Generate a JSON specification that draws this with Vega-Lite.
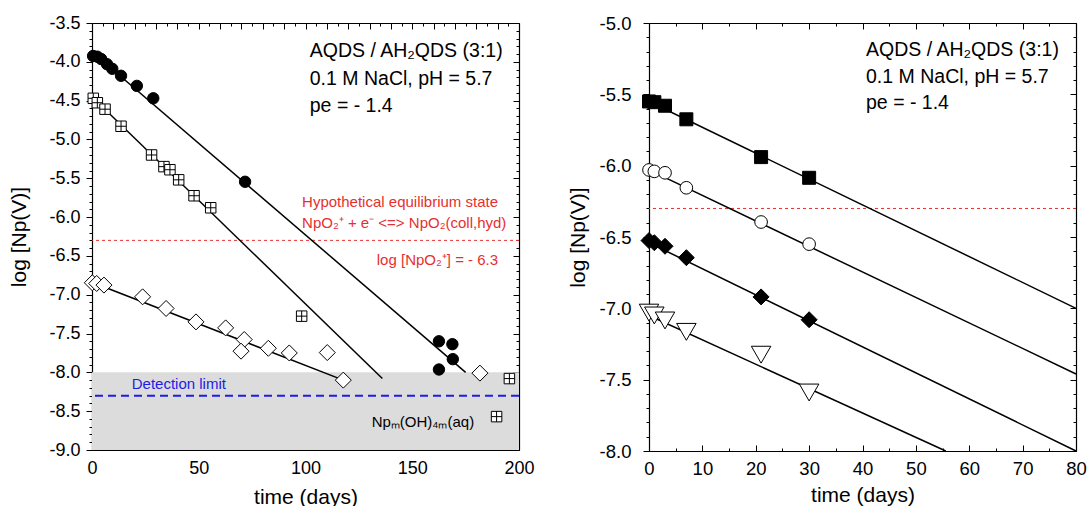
{
  "$schema": "https://vega.github.io/schema/vega-lite/v6.json",
  "padding": {"left": 8, "top": 14, "right": 12, "bottom": 0},
  "background": "white",
  "config": {
    "font": "Liberation Sans",
    "view": {"stroke": null},
    "axis": {"grid": false, "domainColor": "#000", "tickColor": "#000", "labelColor": "#000", "titleColor": "#000", "titleFontWeight": "normal", "labelFont": "Liberation Sans", "titleFont": "Liberation Sans", "domainWidth": 1.2, "tickWidth": 1, "zindex": 1, "labelFlush": false, "labelOverlap": false, "labelBound": false}
  },
  "datasets": {
    "ptsL": [
      {"s": "c", "t": 0.5, "v": -3.925}, {"s": "c", "t": 2.5, "v": -3.934}, {"s": "c", "t": 4.3, "v": -3.964}, {"s": "c", "t": 7, "v": -4.03}, {"s": "c", "t": 9.5, "v": -4.09}, {"s": "c", "t": 13.6, "v": -4.18}, {"s": "c", "t": 21, "v": -4.31}, {"s": "c", "t": 28.7, "v": -4.47}, {"s": "c", "t": 71.7, "v": -5.545}, {"s": "c", "t": 162.5, "v": -7.6}, {"s": "c", "t": 168.8, "v": -7.637}, {"s": "c", "t": 162.5, "v": -7.963}, {"s": "c", "t": 169, "v": -7.83},
      {"s": "q", "t": 0.6, "v": -4.47}, {"s": "q", "t": 2.5, "v": -4.527}, {"s": "q", "t": 6.1, "v": -4.61}, {"s": "q", "t": 13.6, "v": -4.83}, {"s": "q", "t": 27.9, "v": -5.2}, {"s": "q", "t": 33.7, "v": -5.35}, {"s": "q", "t": 36.5, "v": -5.39}, {"s": "q", "t": 40.6, "v": -5.52}, {"s": "q", "t": 47.8, "v": -5.725}, {"s": "q", "t": 55.6, "v": -5.88}, {"s": "q", "t": 98.2, "v": -7.276}, {"s": "q", "t": 195.5, "v": -8.08}, {"s": "q", "t": 189.5, "v": -8.57},
      {"s": "d", "t": 0.15, "v": -6.846}, {"s": "d", "t": 2.2, "v": -6.855}, {"s": "d", "t": 5.6, "v": -6.876}, {"s": "d", "t": 23.7, "v": -7.027}, {"s": "d", "t": 34.7, "v": -7.177}, {"s": "d", "t": 48.7, "v": -7.35}, {"s": "d", "t": 62.6, "v": -7.427}, {"s": "d", "t": 71.3, "v": -7.577}, {"s": "d", "t": 69.8, "v": -7.727}, {"s": "d", "t": 82.6, "v": -7.69}, {"s": "d", "t": 92.4, "v": -7.75}, {"s": "d", "t": 110.2, "v": -7.745}, {"s": "d", "t": 117.7, "v": -8.1}, {"s": "d", "t": 181.7, "v": -8.01}
    ],
    "linesL": [
      {"s": "c", "t": 0, "v": -3.87}, {"s": "c", "t": 175, "v": -8.0},
      {"s": "q", "t": 0, "v": -4.45}, {"s": "q", "t": 136, "v": -8.08},
      {"s": "d", "t": 0, "v": -6.84}, {"s": "d", "t": 117.7, "v": -8.1}
    ],
    "ptsR": [
      {"s": "S", "t": 0, "v": -5.55}, {"s": "S", "t": 1, "v": -5.555}, {"s": "S", "t": 3, "v": -5.58}, {"s": "S", "t": 7, "v": -5.675}, {"s": "S", "t": 21, "v": -5.94}, {"s": "S", "t": 30, "v": -6.085},
      {"s": "C", "t": 0, "v": -6.03}, {"s": "C", "t": 1, "v": -6.04}, {"s": "C", "t": 3, "v": -6.05}, {"s": "C", "t": 7, "v": -6.155}, {"s": "C", "t": 21, "v": -6.395}, {"s": "C", "t": 30, "v": -6.55},
      {"s": "D", "t": 0, "v": -6.525}, {"s": "D", "t": 1, "v": -6.54}, {"s": "D", "t": 3, "v": -6.565}, {"s": "D", "t": 7, "v": -6.645}, {"s": "D", "t": 21, "v": -6.92}, {"s": "D", "t": 30, "v": -7.08},
      {"s": "T", "t": 0, "v": -7.03}, {"s": "T", "t": 1, "v": -7.05}, {"s": "T", "t": 3, "v": -7.085}, {"s": "T", "t": 7, "v": -7.165}, {"s": "T", "t": 21, "v": -7.325}, {"s": "T", "t": 30, "v": -7.59}
    ],
    "linesR": [
      {"s": "S", "t": 0, "v": -5.55}, {"s": "S", "t": 80, "v": -7.0},
      {"s": "C", "t": 0, "v": -6.03}, {"s": "C", "t": 80, "v": -7.46},
      {"s": "D", "t": 0, "v": -6.54}, {"s": "D", "t": 80, "v": -8.0},
      {"s": "T", "t": 0, "v": -7.05}, {"s": "T", "t": 55.6, "v": -8.0}
    ]
  },
  "hconcat": [
    {
      "width": 427,
      "height": 427,
      "layer": [
        {
          "data": {"values": [{"x0": 0, "x1": 200, "y0": -9, "y1": -8}]},
          "mark": {"type": "rect", "color": "#dcdcdc"},
          "encoding": {
            "x": {"field": "x0", "type": "quantitative", "scale": {"domain": [0, 200], "nice": false, "zero": false},
              "axis": {"orient": "bottom", "values": [0, 50, 100, 150, 200], "ticks": false, "labelPadding": 9, "labelFontSize": 18, "title": "time (days)", "titleFontSize": 21, "titlePadding": 9}},
            "x2": {"field": "x1"},
            "y": {"field": "y0", "type": "quantitative", "scale": {"domain": [-9, -3.5], "nice": false, "zero": false},
              "axis": {"orient": "left", "values": [-9,-8.9,-8.8,-8.7,-8.6,-8.5,-8.4,-8.3,-8.2,-8.1,-8,-7.9,-7.8,-7.7,-7.6,-7.5,-7.4,-7.3,-7.2,-7.1,-7,-6.9,-6.8,-6.7,-6.6,-6.5,-6.4,-6.3,-6.2,-6.1,-6,-5.9,-5.8,-5.7,-5.6,-5.5,-5.4,-5.3,-5.2,-5.1,-5,-4.9,-4.8,-4.7,-4.6,-4.5,-4.4,-4.3,-4.2,-4.1,-4,-3.9,-3.8,-3.7,-3.6,-3.5],
                "tickSize": {"condition": {"test": "abs(datum.value*2-round(datum.value*2))<0.01", "value": 6}, "value": 3},
                "labelExpr": "abs(datum.value*2-round(datum.value*2))<0.01 ? (datum.value<0?'-':'') + format(abs(datum.value),'.1f') : ''",
                "labelPadding": 6, "labelFontSize": 18, "title": "log [Np(V)]", "titleFontSize": 21, "titlePadding": 19}},
            "y2": {"field": "y1"}
          }
        },
        {
          "data": {"values": [{"t": 0, "v": -9}]},
          "mark": {"type": "point", "opacity": 0},
          "encoding": {
            "x": {"field": "t", "type": "quantitative", "axis": {"orient": "bottom", "values": [0,5,10,15,20,25,30,35,40,45,50,55,60,65,70,75,80,85,90,95,100,105,110,115,120,125,130,135,140,145,150,155,160,165,170,175,180,185,190,195,200], "labels": false, "domain": false, "title": null,
              "tickSize": {"condition": {"test": "abs(datum.value % 10)<0.01", "value": -6}, "value": -3}}},
            "y": {"field": "v", "type": "quantitative", "axis": {"orient": "right", "values": [-9,-8.9,-8.8,-8.7,-8.6,-8.5,-8.4,-8.3,-8.2,-8.1,-8,-7.9,-7.8,-7.7,-7.6,-7.5,-7.4,-7.3,-7.2,-7.1,-7,-6.9,-6.8,-6.7,-6.6,-6.5,-6.4,-6.3,-6.2,-6.1,-6,-5.9,-5.8,-5.7,-5.6,-5.5,-5.4,-5.3,-5.2,-5.1,-5,-4.9,-4.8,-4.7,-4.6,-4.5,-4.4,-4.3,-4.2,-4.1,-4,-3.9,-3.8,-3.7,-3.6,-3.5], "labels": false, "title": null,
              "tickSize": {"condition": {"test": "abs(datum.value*2-round(datum.value*2))<0.01", "value": -6}, "value": -3}}}
          }
        },
        {
          "data": {"values": [{"t": 0, "v": -9}]},
          "mark": {"type": "point", "opacity": 0},
          "encoding": {
            "x": {"field": "t", "type": "quantitative", "axis": {"orient": "top", "values": [0,5,10,15,20,25,30,35,40,45,50,55,60,65,70,75,80,85,90,95,100,105,110,115,120,125,130,135,140,145,150,155,160,165,170,175,180,185,190,195,200], "labels": false, "title": null,
              "tickSize": {"condition": {"test": "abs(datum.value % 10)<0.01", "value": -6}, "value": -3}}},
            "y": {"field": "v", "type": "quantitative", "axis": null}
          }
        },
        {
          "data": {"values": [{"v": -6.3}]},
          "mark": {"type": "rule", "color": "#e63030", "strokeDash": [3, 3], "strokeWidth": 1},
          "encoding": {"y": {"field": "v", "type": "quantitative", "axis": null}}
        },
        {
          "data": {"values": [{"v": -8.3}]},
          "mark": {"type": "rule", "color": "#1c1ce8", "strokeDash": [8, 5], "strokeWidth": 2},
          "encoding": {"y": {"field": "v", "type": "quantitative", "axis": null}}
        },
        {
          "data": {"name": "linesL"},
          "mark": {"type": "line", "color": "#000", "strokeWidth": 1.5},
          "encoding": {
            "x": {"field": "t", "type": "quantitative", "axis": null},
            "y": {"field": "v", "type": "quantitative", "axis": null},
            "detail": {"field": "s"}
          }
        },
        {
          "data": {"name": "ptsL"},
          "transform": [{"filter": {"field": "s", "equal": "c"}}],
          "mark": {"type": "point", "shape": "circle", "filled": true, "fill": "#000", "stroke": "#000", "strokeWidth": 1, "size": 130, "opacity": 1},
          "encoding": {
            "x": {"field": "t", "type": "quantitative", "axis": null},
            "y": {"field": "v", "type": "quantitative", "axis": null}
          }
        },
        {
          "data": {"name": "ptsL"},
          "transform": [{"filter": {"field": "s", "equal": "q"}}],
          "mark": {"type": "point", "shape": "M-1,-1H1V1H-1Z M0,-1V1 M-1,0H1", "filled": true, "fill": "#fff", "stroke": "#000", "strokeWidth": 1, "size": 110, "opacity": 1},
          "encoding": {
            "x": {"field": "t", "type": "quantitative", "axis": null},
            "y": {"field": "v", "type": "quantitative", "axis": null}
          }
        },
        {
          "data": {"name": "ptsL"},
          "transform": [{"filter": {"field": "s", "equal": "d"}}],
          "mark": {"type": "point", "shape": "diamond", "filled": true, "fill": "#fff", "stroke": "#000", "strokeWidth": 1, "size": 256, "opacity": 1},
          "encoding": {
            "x": {"field": "t", "type": "quantitative", "axis": null},
            "y": {"field": "v", "type": "quantitative", "axis": null}
          }
        },
        {
          "data": {"values": [
            {"t": 102, "v": -3.942, "txt": "AQDS / AH₂QDS (3:1)"},
            {"t": 102, "v": -4.299, "txt": "0.1 M NaCl, pH = 5.7"},
            {"t": 102, "v": -4.643, "txt": "pe = - 1.4"}
          ]},
          "mark": {"type": "text", "align": "left", "baseline": "alphabetic", "fontSize": 19.5, "color": "#000"},
          "encoding": {
            "x": {"field": "t", "type": "quantitative", "axis": null},
            "y": {"field": "v", "type": "quantitative", "axis": null},
            "text": {"field": "txt"}
          }
        },
        {
          "data": {"values": [
            {"t": 98.4, "v": -5.867, "txt": "Hypothetical equilibrium state"},
            {"t": 98.4, "v": -6.146, "txt": "NpO₂⁺ + e⁻ <=> NpO₂(coll,hyd)"}
          ]},
          "mark": {"type": "text", "align": "left", "baseline": "alphabetic", "fontSize": 15, "color": "#e63030"},
          "encoding": {
            "x": {"field": "t", "type": "quantitative", "axis": null},
            "y": {"field": "v", "type": "quantitative", "axis": null},
            "text": {"field": "txt"}
          }
        },
        {
          "data": {"values": [{"t": 190.2, "v": -6.619, "txt": "log [NpO₂⁺] = - 6.3"}]},
          "mark": {"type": "text", "align": "right", "baseline": "alphabetic", "fontSize": 15, "color": "#e63030"},
          "encoding": {
            "x": {"field": "t", "type": "quantitative", "axis": null},
            "y": {"field": "v", "type": "quantitative", "axis": null},
            "text": {"field": "txt"}
          }
        },
        {
          "data": {"values": [{"t": 18.6, "v": -8.208, "txt": "Detection limit"}]},
          "mark": {"type": "text", "align": "left", "baseline": "alphabetic", "fontSize": 15, "color": "#1c1ce8"},
          "encoding": {
            "x": {"field": "t", "type": "quantitative", "axis": null},
            "y": {"field": "v", "type": "quantitative", "axis": null},
            "text": {"field": "txt"}
          }
        },
        {
          "data": {"values": [{"t": 131, "v": -8.702, "txt": "Npₘ(OH)₄ₘ(aq)"}]},
          "mark": {"type": "text", "align": "left", "baseline": "alphabetic", "fontSize": 15, "color": "#000"},
          "encoding": {
            "x": {"field": "t", "type": "quantitative", "axis": null},
            "y": {"field": "v", "type": "quantitative", "axis": null},
            "text": {"field": "txt"}
          }
        }
      ],
      "resolve": {"axis": {"x": "independent", "y": "independent"}}
    },
    {
      "width": 427,
      "height": 428,
      "layer": [
        {
          "data": {"values": [{"v": -6.3}]},
          "mark": {"type": "rule", "color": "#e63030", "strokeDash": [3, 3], "strokeWidth": 1},
          "encoding": {
            "y": {"field": "v", "type": "quantitative", "scale": {"domain": [-8, -5], "nice": false, "zero": false},
              "axis": {"orient": "left", "values": [-8,-7.9,-7.8,-7.7,-7.6,-7.5,-7.4,-7.3,-7.2,-7.1,-7,-6.9,-6.8,-6.7,-6.6,-6.5,-6.4,-6.3,-6.2,-6.1,-6,-5.9,-5.8,-5.7,-5.6,-5.5,-5.4,-5.3,-5.2,-5.1,-5],
                "tickSize": {"condition": {"test": "abs(datum.value*2-round(datum.value*2))<0.01", "value": 6}, "value": 3},
                "labelExpr": "abs(datum.value*2-round(datum.value*2))<0.01 ? (datum.value<0?'-':'') + format(abs(datum.value),'.1f') : ''",
                "labelPadding": 12, "labelFontSize": 18.5, "title": "log [Np(V)]", "titleFontSize": 21, "titlePadding": 11}}
          }
        },
        {
          "data": {"values": [{"t": 0, "v": -8}]},
          "mark": {"type": "point", "opacity": 0},
          "encoding": {
            "x": {"field": "t", "type": "quantitative", "scale": {"domain": [0, 80], "nice": false, "zero": false},
              "axis": {"orient": "bottom", "values": [0, 10, 20, 30, 40, 50, 60, 70, 80], "ticks": false, "labelPadding": 8, "labelFontSize": 18.5, "title": "time (days)", "titleFontSize": 21, "titlePadding": 7}},
            "y": {"field": "v", "type": "quantitative", "axis": {"orient": "right", "values": [-8,-7.9,-7.8,-7.7,-7.6,-7.5,-7.4,-7.3,-7.2,-7.1,-7,-6.9,-6.8,-6.7,-6.6,-6.5,-6.4,-6.3,-6.2,-6.1,-6,-5.9,-5.8,-5.7,-5.6,-5.5,-5.4,-5.3,-5.2,-5.1,-5], "labels": false, "title": null,
              "tickSize": {"condition": {"test": "abs(datum.value*2-round(datum.value*2))<0.01", "value": -6}, "value": -3}}}
          }
        },
        {
          "data": {"values": [{"t": 0, "v": -8}]},
          "mark": {"type": "point", "opacity": 0},
          "encoding": {
            "x": {"field": "t", "type": "quantitative", "axis": {"orient": "bottom", "values": [0,5,10,15,20,25,30,35,40,45,50,55,60,65,70,75,80], "labels": false, "domain": false, "title": null,
              "tickSize": {"condition": {"test": "abs(datum.value % 10)<0.01", "value": -6}, "value": -3}}},
            "y": {"field": "v", "type": "quantitative", "axis": null}
          }
        },
        {
          "data": {"values": [{"t": 0, "v": -8}]},
          "mark": {"type": "point", "opacity": 0},
          "encoding": {
            "x": {"field": "t", "type": "quantitative", "axis": {"orient": "top", "values": [0,5,10,15,20,25,30,35,40,45,50,55,60,65,70,75,80], "labels": false, "title": null,
              "tickSize": {"condition": {"test": "abs(datum.value % 10)<0.01", "value": -6}, "value": -3}}},
            "y": {"field": "v", "type": "quantitative", "axis": null}
          }
        },
        {
          "data": {"name": "linesR"},
          "mark": {"type": "line", "color": "#000", "strokeWidth": 1.5},
          "encoding": {
            "x": {"field": "t", "type": "quantitative", "axis": null},
            "y": {"field": "v", "type": "quantitative", "axis": null},
            "detail": {"field": "s"}
          }
        },
        {
          "data": {"name": "ptsR"},
          "transform": [{"filter": {"field": "s", "equal": "S"}}],
          "mark": {"type": "point", "shape": "square", "filled": true, "fill": "#000", "stroke": "#000", "strokeWidth": 1, "size": 169, "opacity": 1},
          "encoding": {
            "x": {"field": "t", "type": "quantitative", "axis": null},
            "y": {"field": "v", "type": "quantitative", "axis": null}
          }
        },
        {
          "data": {"name": "ptsR"},
          "transform": [{"filter": {"field": "s", "equal": "C"}}],
          "mark": {"type": "point", "shape": "circle", "filled": true, "fill": "#fff", "stroke": "#000", "strokeWidth": 1, "size": 160, "opacity": 1},
          "encoding": {
            "x": {"field": "t", "type": "quantitative", "axis": null},
            "y": {"field": "v", "type": "quantitative", "axis": null}
          }
        },
        {
          "data": {"name": "ptsR"},
          "transform": [{"filter": {"field": "s", "equal": "D"}}],
          "mark": {"type": "point", "shape": "diamond", "filled": true, "fill": "#000", "stroke": "#000", "strokeWidth": 1, "size": 256, "opacity": 1},
          "encoding": {
            "x": {"field": "t", "type": "quantitative", "axis": null},
            "y": {"field": "v", "type": "quantitative", "axis": null}
          }
        },
        {
          "data": {"name": "ptsR"},
          "transform": [{"filter": {"field": "s", "equal": "T"}}],
          "mark": {"type": "point", "shape": "triangle-down", "filled": true, "fill": "#fff", "stroke": "#000", "strokeWidth": 1, "size": 380, "opacity": 1},
          "encoding": {
            "x": {"field": "t", "type": "quantitative", "axis": null},
            "y": {"field": "v", "type": "quantitative", "axis": null}
          }
        },
        {
          "data": {"values": [
            {"t": 40.66, "v": -5.231, "txt": "AQDS / AH₂QDS (3:1)"},
            {"t": 40.66, "v": -5.418, "txt": "0.1 M NaCl, pH = 5.7"},
            {"t": 40.66, "v": -5.605, "txt": "pe = - 1.4"}
          ]},
          "mark": {"type": "text", "align": "left", "baseline": "alphabetic", "fontSize": 19.5, "color": "#000"},
          "encoding": {
            "x": {"field": "t", "type": "quantitative", "axis": null},
            "y": {"field": "v", "type": "quantitative", "axis": null},
            "text": {"field": "txt"}
          }
        }
      ],
      "resolve": {"axis": {"x": "independent", "y": "independent"}}
    }
  ],
  "spacing": 32
}
